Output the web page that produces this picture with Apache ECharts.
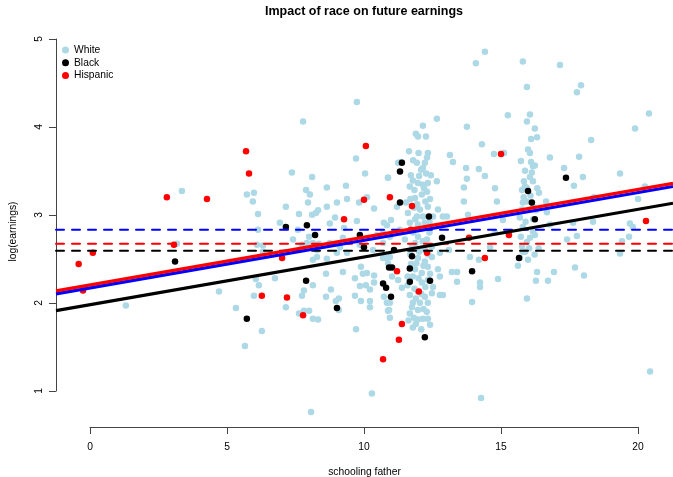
<!DOCTYPE html>
<html>
<head>
<meta charset="utf-8">
<title>Impact of race on future earnings</title>
<script src="https://cdn.jsdelivr.net/npm/echarts@6/dist/echarts.min.js"></script>
<style>
  html, body { margin: 0; padding: 0; background: #ffffff; }
  #myChart { width: 673px; height: 477px; }
</style>
</head>
<body>
<div id="myChart"></div>
<script>
// [schooling father, log(earnings)]
const whitePoints = [
  [3.33, 3.27], [5.71, 3.23], [3.15, 2.67], [1.28, 1.97], [4.69, 2.13], [5.31, 1.94], [5.64, 1.51],
  [9.74, 4.28], [7.77, 4.06], [9.71, 3.64], [10.04, 3.47], [7.36, 3.48], [8.10, 3.43], [5.97, 3.25],
  [5.93, 3.15], [6.12, 3.01], [7.88, 3.28], [8.02, 3.23], [7.95, 3.14], [8.64, 3.31], [9.34, 3.33],
  [9.38, 3.18], [9.82, 3.14], [10.11, 3.20], [10.37, 3.07], [10.88, 3.42], [7.14, 3.09], [7.62, 3.01],
  [8.10, 3.00], [8.24, 3.02], [8.32, 3.05], [8.64, 3.09], [9.01, 3.14], [8.94, 2.97], [8.75, 2.90],
  [9.74, 2.93], [9.27, 2.85], [6.92, 2.91], [10.84, 2.88], [6.12, 2.83], [7.58, 2.83],
  [7.40, 2.72], [7.73, 2.66], [7.99, 2.75], [7.91, 2.68], [8.13, 2.68], [8.35, 2.67], [8.28, 2.60],
  [8.13, 2.49], [8.28, 2.52], [8.64, 2.50], [8.75, 2.68], [9.12, 2.63], [9.01, 2.57], [9.23, 2.74],
  [9.38, 2.57], [9.85, 2.66], [10.33, 2.60], [10.70, 2.68], [10.84, 2.51], [6.08, 2.66], [6.30, 2.65],
  [6.30, 2.58], [6.04, 2.27], [6.15, 2.20], [5.97, 2.08], [6.74, 2.28], [8.13, 2.20], [7.80, 2.14],
  [7.73, 2.08], [7.14, 1.95], [7.62, 1.88], [7.80, 1.91], [7.99, 1.91], [8.13, 1.82], [8.32, 1.81],
  [6.26, 1.68], [8.61, 2.33], [8.79, 2.15], [8.61, 2.07], [8.97, 2.02], [9.08, 2.05], [9.08, 1.92],
  [9.23, 2.35], [9.67, 2.28], [9.89, 2.41], [10.11, 2.34], [9.96, 2.33], [10.37, 2.31], [9.85, 2.19],
  [10.07, 2.20], [10.22, 2.15], [10.37, 2.23], [9.67, 2.08], [9.89, 2.02], [10.22, 2.02], [10.22, 1.95],
  [10.84, 2.00], [10.88, 1.91], [9.71, 1.70], [10.29, 0.97], [8.06, 0.76], [10.48, 2.77], [10.70, 2.80],
  [10.88, 2.45], [10.73, 2.91], [10.70, 2.51], [10.73, 2.07],
  [13.04, 2.98], [13.11, 2.60], [13.22, 2.35], [13.41, 2.35], [13.41, 2.24], [13.66, 3.15], [13.81, 3.00],
  [13.88, 2.52], [14.21, 2.49], [14.25, 2.23], [14.25, 2.18], [13.96, 2.01], [14.91, 2.27], [14.62, 2.63],
  [14.80, 2.80], [14.87, 3.15], [14.29, 0.92],
  [14.43, 4.85], [14.10, 4.72], [15.82, 4.74], [15.97, 4.45], [15.27, 4.13], [13.77, 4.00], [14.32, 3.80],
  [13.15, 3.68], [13.26, 3.60], [13.74, 3.53], [13.77, 3.41], [13.66, 3.31], [14.21, 3.52], [14.43, 3.44],
  [14.76, 3.69], [14.80, 3.30], [16.08, 4.14],
  [15.97, 4.06], [16.26, 3.98], [16.12, 3.86], [16.34, 3.88], [16.01, 3.74], [16.08, 3.70], [16.81, 3.65],
  [15.75, 3.61], [16.19, 3.55], [16.26, 3.56], [16.15, 3.48], [16.08, 3.43], [15.86, 3.38], [16.19, 3.38],
  [15.90, 3.32], [15.79, 3.28], [15.97, 3.30], [16.41, 3.25], [16.67, 3.15], [15.82, 3.14], [15.97, 3.15],
  [16.19, 3.09], [15.79, 3.06], [16.70, 3.03], [15.71, 2.97], [15.82, 2.86], [16.19, 2.81], [16.26, 2.77],
  [16.81, 2.89], [16.08, 2.74], [15.97, 2.69], [15.79, 2.64], [15.90, 2.58], [15.71, 2.51], [15.64, 2.42],
  [16.01, 2.49], [15.82, 2.58], [16.34, 2.35], [16.30, 2.25], [16.74, 2.25], [16.96, 2.35], [15.97, 2.05],
  [15.09, 2.94], [15.13, 3.70],
  [15.85, 3.20], [16.10, 3.22], [16.30, 3.05], [15.92, 2.92], [16.20, 2.95], [16.05, 2.62], [16.25, 2.55],
  [15.75, 2.75], [16.40, 2.62], [16.12, 3.60], [15.90, 3.50], [16.35, 3.30],
  [17.18, 4.70], [17.95, 4.47], [17.80, 4.39], [20.44, 4.15], [19.93, 3.98], [18.32, 3.85], [17.88, 3.66],
  [17.33, 3.53], [18.02, 3.43], [19.38, 3.47], [17.69, 3.33], [20.29, 3.32], [20.04, 3.18], [18.42, 3.20],
  [18.39, 2.92], [19.74, 2.90], [19.85, 2.86], [17.66, 2.91], [17.80, 2.76], [17.44, 2.72], [19.45, 2.70],
  [19.71, 2.75], [19.38, 2.56], [18.06, 2.31], [17.73, 2.40], [20.48, 1.22],
  [12.67, 4.09], [12.16, 4.01], [11.90, 3.92], [11.98, 3.89], [12.27, 3.89], [11.65, 3.72], [11.36, 3.60],
  [11.25, 3.59], [12.34, 3.70], [12.31, 3.65], [12.23, 3.59], [12.16, 3.53], [12.09, 3.51], [11.94, 3.59],
  [10.88, 3.42], [11.79, 3.39], [11.98, 3.36], [11.68, 3.32], [12.16, 3.34], [12.34, 3.36], [12.67, 3.38],
  [11.54, 3.14], [11.87, 3.19], [12.12, 3.23], [12.31, 3.26], [11.83, 3.08], [12.05, 3.06], [12.34, 3.09],
  [11.61, 3.02], [11.94, 2.98], [12.16, 2.98], [11.68, 2.91], [11.98, 2.89], [12.23, 2.91], [12.53, 2.98],
  [12.71, 3.06], [12.89, 2.98], [10.99, 2.94], [11.21, 3.09], [10.95, 2.75], [11.32, 2.83], [11.50, 2.72],
  [11.98, 2.75], [12.31, 2.72], [11.76, 2.64], [12.23, 2.60], [12.49, 2.64], [10.95, 2.52], [11.98, 2.51],
  [12.23, 2.47], [12.49, 2.52], [12.78, 2.57], [12.71, 2.38], [12.78, 2.30], [11.87, 2.38], [12.12, 2.34],
  [12.34, 2.41], [11.25, 2.26], [11.79, 2.30], [12.12, 2.23], [12.34, 2.26], [12.53, 2.18], [11.03, 2.30],
  [11.39, 2.17], [11.68, 2.09], [11.98, 2.13], [12.23, 2.07], [12.49, 2.11], [12.78, 2.09], [10.95, 2.00],
  [11.79, 2.00], [12.05, 2.00], [12.34, 2.00], [11.98, 1.92], [10.92, 1.92], [10.95, 1.83], [11.76, 1.95],
  [11.83, 1.83], [11.98, 1.81], [12.16, 1.82], [12.34, 1.82], [11.79, 1.72], [12.89, 2.09],
  [11.72, 3.45], [12.02, 3.44], [12.28, 3.47], [11.85, 3.28], [12.20, 3.30], [11.95, 3.12], [12.25, 3.15],
  [11.70, 3.18], [12.42, 3.18], [11.88, 2.95], [12.40, 2.92], [12.05, 2.84], [11.80, 2.80], [12.15, 2.70],
  [11.88, 2.68], [12.40, 2.80], [12.02, 2.58], [11.70, 2.55], [12.35, 2.55], [11.92, 2.45], [12.18, 2.42],
  [11.72, 2.44], [12.00, 2.28], [11.60, 2.30], [12.42, 2.33], [12.25, 2.18], [11.85, 2.16], [12.10, 2.10],
  [11.60, 2.20], [11.90, 2.05], [12.18, 1.93], [11.68, 1.88], [12.30, 1.90], [11.90, 1.76], [12.10, 1.70],
  [12.42, 1.75], [11.63, 1.80], [12.00, 3.70], [11.80, 3.62], [12.45, 3.45]
];

const blackPoints = [
  [3.08, 2.47], [5.71, 1.82], [7.14, 2.86], [7.91, 2.88], [8.21, 2.77], [9.85, 2.77], [10.00, 2.63],
  [7.88, 2.25], [9.01, 1.94], [10.92, 2.40], [10.70, 2.22], [10.81, 2.17], [10.99, 2.07], [11.39, 3.59],
  [11.32, 3.49], [11.32, 3.14], [12.38, 2.98], [12.86, 2.74], [11.10, 2.60], [11.76, 2.53], [11.03, 2.40],
  [11.68, 2.39], [11.68, 2.24], [12.42, 2.25], [12.23, 1.61], [13.96, 2.36], [15.68, 2.51], [16.26, 2.95],
  [16.01, 3.27], [16.15, 3.14], [17.40, 3.42]
];

const hispanicPoints = [
  [-0.45, 2.44], [0.07, 2.57], [-0.29, 2.14], [2.78, 3.20], [3.04, 2.66], [4.25, 3.18], [5.68, 3.72],
  [5.79, 3.47], [6.26, 2.08], [7.18, 2.06], [7.00, 2.51], [7.77, 1.86], [10.70, 1.36], [10.07, 3.78],
  [10.00, 3.17], [9.27, 2.95], [10.95, 3.20], [11.76, 3.10], [11.21, 2.36], [11.39, 1.76], [11.28, 1.58],
  [14.43, 2.51], [12.01, 2.13], [13.85, 2.74], [15.31, 2.77], [12.31, 2.57], [15.02, 3.69], [20.33, 2.93],
  [11.72, 2.83]
];

const groups = ['White', 'Black', 'Hispanic'];
const pointColors = ['#ADD8E6', '#000000', '#FF0000'];
const lineColors = ['#0000FF', '#000000', '#FF0000'];
// fitted lines: log(earnings) = intercept + slope * schooling
const intercepts = [2.17, 1.98, 2.205];
const slope = 0.054;
// group averages (dashed)
const groupMeans = [2.83, 2.59, 2.67];

const xMin = -1.28, xMax = 21.32;
const yMin = 0.59, yMax = 5.03;
const font = 'Liberation Sans, Arial, Helvetica, sans-serif';

let myChart = echarts.init(document.getElementById('myChart'));

const pointData = [whitePoints, blackPoints, hispanicPoints];
let series = [];
groups.forEach((g, i) => {
  series.push({
    name: g,
    type: 'scatter',
    xAxisIndex: 0,
    yAxisIndex: 0,
    data: pointData[i],
    symbol: 'circle',
    symbolSize: 6.5,
    itemStyle: { color: pointColors[i], opacity: 1 },
    z: 2 + i,
  });
});

// dashed mean lines
groups.forEach((g, i) => {
  series.push({
    name: 'mean ' + g,
    type: 'line',
    xAxisIndex: 0,
    yAxisIndex: 0,
    data: [[xMin, groupMeans[i]], [xMax, groupMeans[i]]],
    showSymbol: false,
    lineStyle: { color: lineColors[i], width: 2, type: [8, 8], cap: 'round' },
    z: 6,
  });
});

// fitted lines, red drawn last
[1, 0, 2].forEach((i) => {
  series.push({
    name: 'fit ' + groups[i],
    type: 'line',
    xAxisIndex: 0,
    yAxisIndex: 0,
    data: [[xMin, intercepts[i] + slope * xMin], [xMax, intercepts[i] + slope * xMax]],
    showSymbol: false,
    lineStyle: { color: lineColors[i], width: 3.2 },
    z: 7,
  });
});

const axisColor = '#444';

myChart.setOption({
  animation: false,
  backgroundColor: '#ffffff',
  title: {
    text: 'Impact of race on future earnings',
    left: 359,
    top: 0,
    textAlign: 'center',
    textStyle: { fontFamily: font, fontSize: 12.5, fontWeight: 'bold', color: '#000' },
  },
  legend: {
    data: groups,
    orient: 'vertical',
    left: 57,
    top: 39,
    icon: 'circle',
    itemWidth: 7,
    itemHeight: 7,
    itemGap: 0.7,
    textStyle: { fontFamily: font, fontSize: 10.3, color: '#000', lineHeight: 12 },
  },
  grid: [
    { left: 56, right: 0, top: 36, bottom: 50, outerBoundsMode: 'none' },
    { left: 90, right: 35, top: 426, bottom: 50, outerBoundsMode: 'none' },
    { left: 56, right: 616, top: 39, bottom: 86, outerBoundsMode: 'none' },
  ],
  xAxis: [
    {
      gridIndex: 0,
      type: 'value',
      min: xMin,
      max: xMax,
      axisLine: { show: false },
      axisTick: { show: false },
      axisLabel: { show: false },
      splitLine: { show: false },
      name: 'schooling father',
      nameLocation: 'middle',
      nameGap: 40,
      nameTextStyle: { fontFamily: font, fontSize: 10.3, color: '#000' },
    },
    {
      gridIndex: 1,
      type: 'value',
      min: 0,
      max: 20,
      interval: 5,
      axisLine: { show: true, onZero: false, lineStyle: { color: axisColor, width: 1 } },
      axisTick: { show: true, length: 7, lineStyle: { color: axisColor, width: 1 } },
      axisLabel: { margin: 15, fontFamily: font, fontSize: 10.3, color: '#000' },
      splitLine: { show: false },
    },
    { gridIndex: 2, type: 'value', show: false },
  ],
  yAxis: [
    {
      gridIndex: 0,
      type: 'value',
      min: yMin,
      max: yMax,
      axisLine: { show: false },
      axisTick: { show: false },
      axisLabel: { show: false },
      splitLine: { show: false },
      name: 'log(earnings)',
      nameLocation: 'middle',
      nameGap: 38,
      nameRotate: 90,
      nameTextStyle: { fontFamily: font, fontSize: 10.3, color: '#000' },
    },
    { gridIndex: 1, type: 'value', show: false },
    {
      gridIndex: 2,
      type: 'value',
      min: 1,
      max: 5,
      interval: 1,
      axisLine: { show: true, onZero: false, lineStyle: { color: axisColor, width: 1 } },
      axisTick: { show: true, length: 7, lineStyle: { color: axisColor, width: 1 } },
      axisLabel: { rotate: 90, margin: 12, fontFamily: font, fontSize: 10.3, color: '#000' },
      splitLine: { show: false },
    },
  ],
  series: series,
});
</script>
</body>
</html>
